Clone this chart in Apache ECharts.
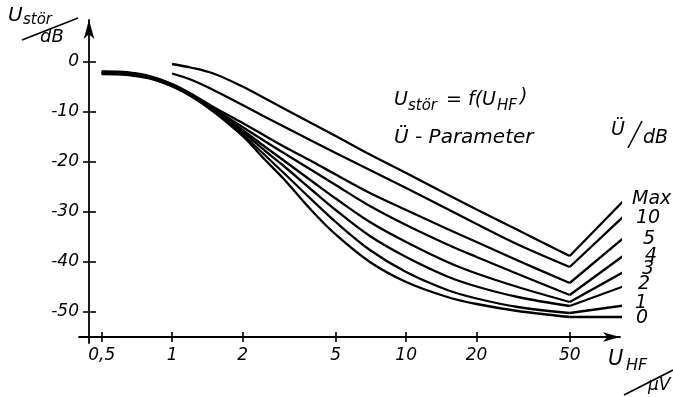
<!DOCTYPE html>
<html>
<head>
<meta charset="utf-8">
<script src="https://cdn.jsdelivr.net/npm/echarts@6/dist/echarts.min.js"></script>
<style>
  html, body { margin: 0; padding: 0; background: #fff; }
  #chart { width: 673px; height: 397px; }
</style>
</head>
<body>
<div id="chart"></div>
<script>
// U_HF in µV (x), U_stör in dB (y), one row per Ü parameter
const uHf = [0.5, 0.65, 0.8, 1, 1.2, 1.5, 2, 2.5, 3, 4, 5, 7, 10, 15, 20, 30, 50, 88];

const curveMax = [null, null, null, -0.4, -1.1, -2.3, -4.9, -7.3, -9.3, -12.4, -14.8, -18.5, -22.2, -26.5, -29.5, -33.6, -38.8, -27];
const curve10 = [null, null, null, -2.3, -3.5, -5.6, -8.6, -11.0, -12.9, -15.9, -18.2, -21.6, -25.2, -29.4, -32.4, -36.5, -41.0, -30.2];
const curve5 = [-1.9, -2.1, -2.8, -4.4, -6.3, -9.0, -12.2, -14.8, -16.9, -20.0, -22.5, -26.2, -29.6, -33.4, -36.0, -39.7, -44.2, -34.6];
const curve4 = [-2.0, -2.2, -2.9, -4.5, -6.4, -9.3, -13.0, -15.9, -18.2, -21.8, -24.6, -28.8, -32.6, -36.5, -39.0, -42.4, -46.6, -38.2];
const curve3 = [-2.1, -2.3, -3.0, -4.6, -6.5, -9.5, -13.6, -17.0, -19.7, -24.0, -27.3, -32.0, -36.0, -40.0, -42.3, -45.0, -48.0, -41.6];
const curve2 = [-2.2, -2.4, -3.1, -4.7, -6.6, -9.6, -14.0, -17.8, -20.8, -25.8, -29.6, -34.8, -39.0, -42.9, -44.9, -47.0, -48.8, -44.6];
const curve1 = [-2.3, -2.5, -3.2, -4.8, -6.7, -9.7, -14.5, -18.7, -22.2, -27.8, -32.0, -37.6, -42.0, -45.6, -47.3, -49.0, -50.2, -48.6];
const curve0 = [-2.4, -2.6, -3.3, -4.9, -6.8, -9.9, -14.8, -19.6, -23.4, -30.0, -34.5, -40.0, -44.0, -47.0, -48.4, -49.8, -51.0, -51.0];

const paramNames = ['Max', '10', '5', '4', '3', '2', '1', '0'];

const xTicks = [0.5, 1, 2, 5, 10, 20, 50];
const xTickLabels = ['0,5', '1', '2', '5', '10', '20', '50'];
const yTicks = [0, -10, -20, -30, -40, -50];
const yTickLabels = ['0', '-10', '-20', '-30', '-40', '-50'];

const FONT = '"DejaVu Sans"';
const lg = v => Math.log10(v);

var chart = echarts.init(document.getElementById('chart'));

// label nudges for the parameter names at the curve ends
const labelOffsets = [[6, -3], [10, 0], [17, 0], [19, -1], [16, -4], [12, -3], [9, -3], [10, 1]];

const curves = [curveMax, curve10, curve5, curve4, curve3, curve2, curve1, curve0];
let series = [];
curves.forEach((vals, i) => {
  const pts = uHf.map((u, j) => [lg(u), vals[j]]);
  const n = pts.length;
  // curved part up to 50 µV
  series.push({
    name: paramNames[i] + '_curve',
    type: 'line',
    smooth: 0.35,
    symbol: 'none',
    silent: true,
    data: pts.slice(0, n - 1),
    lineStyle: { color: '#000', width: 2.3 }
  });
  // straight rise after the knee
  series.push({
    name: paramNames[i],
    type: 'line',
    symbol: 'none',
    silent: true,
    clip: false,
    data: pts.slice(n - 2),
    lineStyle: { color: '#000', width: 2.3 },
    endLabel: {
      show: true,
      formatter: paramNames[i],
      distance: 4,
      offset: labelOffsets[i],
      color: '#000',
      fontFamily: FONT,
      fontStyle: 'italic',
      fontSize: 19
    }
  });
});

const xLabelFmt = v => {
  const k = xTicks.findIndex(t => Math.abs(lg(t) - v) < 1e-6);
  return k >= 0 ? xTickLabels[k] : '';
};
const yLabelFmt = v => {
  const k = yTicks.findIndex(t => Math.abs(t - v) < 1e-6);
  return k >= 0 ? yTickLabels[k] : '';
};

const tickStyle = { color: '#000', width: 1.6 };
const textStyle = { color: '#000', fontFamily: FONT, fontStyle: 'italic', fontSize: 17 };

function txt(text, x, y, size) {
  return {
    type: 'text', x: x, y: y, silent: true,
    style: { text: text, fill: '#000', font: 'italic ' + size + 'px ' + FONT, verticalAlign: 'top' }
  };
}
function ln(x1, y1, x2, y2) {
  return {
    type: 'line', silent: true,
    shape: { x1: x1, y1: y1, x2: x2, y2: y2 },
    style: { stroke: '#000', lineWidth: 1.6 }
  };
}

chart.setOption({
  backgroundColor: '#fff',
  animation: false,
  grid: { left: 79, right: 53, top: 20, bottom: 54 },
  xAxis: [{
    type: 'value',
    min: lg(0.4),
    max: lg(82),
    offset: -6,
    axisLine: { show: true, onZero: false, lineStyle: { color: '#000', width: 1.8 }, symbol: ['none', 'arrow'], symbolSize: [7, 17] },
    axisTick: { show: true, customValues: xTicks.map(lg), length: 5, lineStyle: tickStyle },
    axisLabel: Object.assign({ customValues: xTicks.map(lg), formatter: xLabelFmt, margin: 10 }, textStyle),
    splitLine: { show: false }
  }, {
    type: 'value',
    position: 'bottom',
    min: lg(0.4),
    max: lg(82),
    offset: -6,
    axisLine: { show: false, onZero: false },
    axisTick: { show: true, inside: true, customValues: xTicks.map(lg), length: 5, lineStyle: tickStyle },
    axisLabel: { show: false },
    splitLine: { show: false }
  }],
  yAxis: [{
    type: 'value',
    min: -56.2,
    max: 8.4,
    offset: -10,
    axisLine: { show: true, onZero: false, lineStyle: { color: '#000', width: 1.8 }, symbol: ['none', 'arrow'], symbolSize: [8, 19] },
    axisTick: { show: true, customValues: yTicks, length: 6, lineStyle: tickStyle },
    axisLabel: Object.assign({ customValues: yTicks, formatter: yLabelFmt, margin: 10 }, textStyle),
    splitLine: { show: false }
  }, {
    type: 'value',
    position: 'left',
    min: -56.2,
    max: 8.4,
    offset: -10,
    axisLine: { show: false, onZero: false },
    axisTick: { show: true, inside: true, customValues: yTicks, length: 7, lineStyle: tickStyle },
    axisLabel: { show: false },
    splitLine: { show: false }
  }],
  graphic: [
    // y axis title  U_stör / dB
    txt('U', 8, 6, 20),
    txt('stör', 23, 13, 15),
    ln(22, 40, 78, 18),
    txt('dB', 40, 28, 18),
    // x axis title  U_HF / µV
    txt('U', 608, 349, 21),
    txt('HF', 626, 358, 16),
    ln(624, 395, 673, 370),
    txt('µV', 648, 377, 17),
    // function block
    txt('U', 394, 91, 19),
    txt('stör', 408, 99, 15),
    txt('= f(U', 446, 91, 19),
    txt('HF', 497, 99, 15),
    txt(')', 520, 88, 19),
    txt('Ü - Parameter', 394, 128, 20),
    // parameter unit  Ü / dB
    txt('Ü', 611, 121, 19),
    ln(628, 148, 642, 121),
    txt('dB', 643, 129, 19)
  ],
  series: series
});
</script>
</body>
</html>
